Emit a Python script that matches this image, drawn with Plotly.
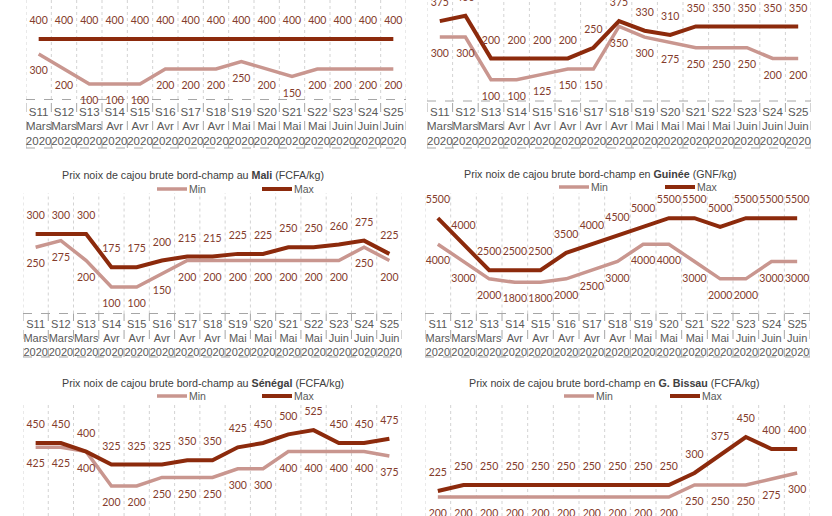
import plotly.graph_objects as go

W, H = 832, 516
OFF = 0  # body margin removed by the post script below

weeks = ["S11", "S12", "S13", "S14", "S15", "S16", "S17", "S18", "S19", "S20", "S21", "S22", "S23", "S24", "S25"]
months = ["Mars", "Mars", "Mars", "Avr", "Avr", "Avr", "Avr", "Avr", "Mai", "Mai", "Mai", "Mai", "Juin", "Juin", "Juin"]
years = ["2020"] * 15
tick_text = [f"{w}<br>{m}<br>{y}" for w, m, y in zip(weeks, months, years)]

tl_min = [300, 200, 100, 100, 100, 200, 200, 200, 250, 200, 150, 200, 200, 200, 200]
tl_max = [400, 400, 400, 400, 400, 400, 400, 400, 400, 400, 400, 400, 400, 400, 400]
tr_min = [300, 300, 100, 100, 125, 150, 150, 350, 300, 275, 250, 250, 250, 200, 200]
tr_max = [375, 400, 200, 200, 200, 200, 250, 375, 330, 310, 350, 350, 350, 350, 350]
mali_min = [250, 275, 200, 100, 100, 150, 200, 200, 200, 200, 200, 200, 200, 250, 200]
mali_max = [300, 300, 300, 175, 175, 200, 215, 215, 225, 225, 250, 250, 260, 275, 225]
guinee_min = [4000, 3000, 2000, 1800, 1800, 2000, 2500, 3000, 4000, 4000, 3000, 2000, 2000, 3000, 3000]
guinee_max = [5500, 4000, 2500, 2500, 2500, 3500, 4000, 4500, 5000, 5500, 5500, 5000, 5500, 5500, 5500]
senegal_min = [425, 425, 400, 200, 200, 250, 250, 250, 300, 300, 400, 400, 400, 400, 375]
senegal_max = [450, 450, 400, 325, 325, 325, 350, 350, 425, 450, 500, 525, 450, 450, 475]
bissau_min = [200, 200, 200, 200, 200, 200, 200, 200, 200, 200, 250, 250, 250, 275, 300]
bissau_max = [225, 250, 250, 250, 250, 250, 250, 250, 250, 250, 300, 375, 450, 400, 400]

MIN_COLOR = "#C9968F"
MAX_COLOR = "#8C2A0C"
LABEL_COLOR = "#843C2C"
GRID_COLOR = "#D3D3D3"
TABLE_COLOR = "#A6A6A6"
TEXT_GRAY = "#595959"


def fx(px):
    return (px - OFF) / W


def fy(py):
    return 1 - (py - OFF) / H


# panel layout in page pixels: plot area x/y extents, pixel of value zero and pixels per unit
panels = [
    dict(mn=tl_min, mx=tl_max, x=(26, 406), y=(0, 99), zero=99, ppu=0.15, table=(99.5, 148),
         tfs=11.5, tso=4, title=None),
    dict(mn=tr_min, mx=tr_max, x=(427, 811), y=(0, 101), zero=101, ppu=0.213, table=(101, 148),
         tfs=11.5, tso=2, title=None),
    dict(mn=mali_min, mx=mali_max, x=(23, 402), y=(193, 313.5), zero=313.5, ppu=0.265, table=(313.5, 357),
         tfs=11, tso=2,
         title="Prix noix de cajou brute bord-champ au <b>Mali</b> (FCFA/kg)", tpos=(193, 175), leg=(157, 262, 189)),
    dict(mn=guinee_min, mx=guinee_max, x=(425, 810), y=(193, 313.5), zero=313.5, ppu=0.01733, table=(313.5, 357),
         tfs=11, tso=2,
         title="Prix noix de cajou brute bord-champ en <b>Guinée</b> (GNF/kg)", tpos=(600, 174), leg=(559, 665, 187)),
    dict(mn=senegal_min, mx=senegal_max, x=(23, 402), y=(402, H), zero=520.4, ppu=0.172, table=None,
         tfs=11, tso=2,
         title="Prix noix de cajou brute bord-champ au <b>Sénégal</b> (FCFA/kg)", tpos=(203, 383), leg=(157, 262, 396)),
    dict(mn=bissau_min, mx=bissau_max, x=(425, 810), y=(402, H), zero=545, ppu=0.24, table=None,
         tfs=11, tso=2,
         title="Prix noix de cajou brute bord-champ en <b>G. Bissau</b> (FCFA/kg)", tpos=(614, 383), leg=(564, 670, 396)),
]

fig = go.Figure()
shapes = []
annotations = []
layout = {}
xs = list(range(len(weeks)))

for i, p in enumerate(panels):
    n = "" if i == 0 else str(i + 1)
    xa, ya = "x" + n, "y" + n
    for vals, color, pos, lw in [(p["mn"], MIN_COLOR, "bottom center", 3.5), (p["mx"], MAX_COLOR, "top center", 4)]:
        fig.add_trace(go.Scatter(
            x=xs, y=vals, xaxis=xa, yaxis=ya, mode="lines+markers+text",
            line=dict(color=color, width=lw), marker=dict(size=18, color="rgba(0,0,0,0)"),
            text=[str(v) for v in vals], textposition=pos, cliponaxis=False,
            textfont=dict(family="Lato", size=10.5, color=LABEL_COLOR), showlegend=False, hoverinfo="skip"))
    has_table = p["table"] is not None
    ytop, ybot = p["y"]
    yrange = [(p["zero"] - ybot) / p["ppu"], (p["zero"] - ytop) / p["ppu"]]
    layout["xaxis" + n] = dict(
        domain=[fx(p["x"][0]), fx(p["x"][1])], anchor=ya, range=[-0.5, len(weeks) - 0.5],
        showgrid=False, zeroline=False, showline=False, fixedrange=True,
        tickmode="array", tickvals=xs, ticktext=tick_text, showticklabels=has_table,
        ticks="", ticklabelstandoff=p["tso"], tickangle=0,
        tickfont=dict(family="Liberation Sans", size=p["tfs"], color=TEXT_GRAY))
    layout["yaxis" + n] = dict(
        domain=[fy(ybot), fy(ytop)], anchor=xa, range=yrange,
        visible=False, fixedrange=True)
    # vertical dotted gridlines in the plot area
    for k in range(len(weeks) + 1):
        shapes.append(dict(type="line", xref=xa, yref="paper", x0=k - 0.5, x1=k - 0.5,
                           y0=fy(ybot), y1=fy(ytop), layer="below",
                           line=dict(color=GRID_COLOR, width=1, dash="dot")))
    if has_table:
        t0, t1 = p["table"]
        for k in range(len(weeks) + 1):
            shapes.append(dict(type="line", xref=xa, yref="paper", x0=k - 0.5, x1=k - 0.5,
                               y0=fy(t1), y1=fy(t0), layer="below",
                               line=dict(color=TABLE_COLOR, width=1, dash="dash")))
        for ty in (t0, t1):
            shapes.append(dict(type="line", xref=xa, yref="paper", x0=-0.5, x1=len(weeks) - 0.5,
                               y0=fy(ty), y1=fy(ty), layer="below",
                               line=dict(color=TABLE_COLOR, width=1, dash="dash")))
    if p["title"]:
        tx, ty = p["tpos"]
        annotations.append(dict(text=p["title"], x=fx(tx), y=fy(ty), xref="paper", yref="paper",
                                showarrow=False, xanchor="center", yanchor="middle",
                                font=dict(family="Liberation Sans", size=10.7, color="#404040")))
        lx_min, lx_max, ly = p["leg"]
        for lx, color, name, lw in [(lx_min, MIN_COLOR, "Min", 3.5), (lx_max, MAX_COLOR, "Max", 4)]:
            shapes.append(dict(type="line", xref="paper", yref="paper", x0=fx(lx), x1=fx(lx + 30),
                               y0=fy(ly), y1=fy(ly), line=dict(color=color, width=lw)))
            annotations.append(dict(text=name, x=fx(lx + 30), y=fy(ly), xref="paper", yref="paper",
                                    showarrow=False, xanchor="left", yanchor="middle",
                                    font=dict(family="Liberation Sans", size=10.5, color=TEXT_GRAY)))

fig.update_layout(
    width=W, height=H, margin=dict(l=0, r=0, t=0, b=0),
    paper_bgcolor="white", plot_bgcolor="white", hovermode=False,
    shapes=shapes, annotations=annotations, showlegend=False, **layout)

fig.write_html("out.html", config={"displayModeBar": False, "staticPlot": True},
               post_script="document.body.style.margin='0';")
